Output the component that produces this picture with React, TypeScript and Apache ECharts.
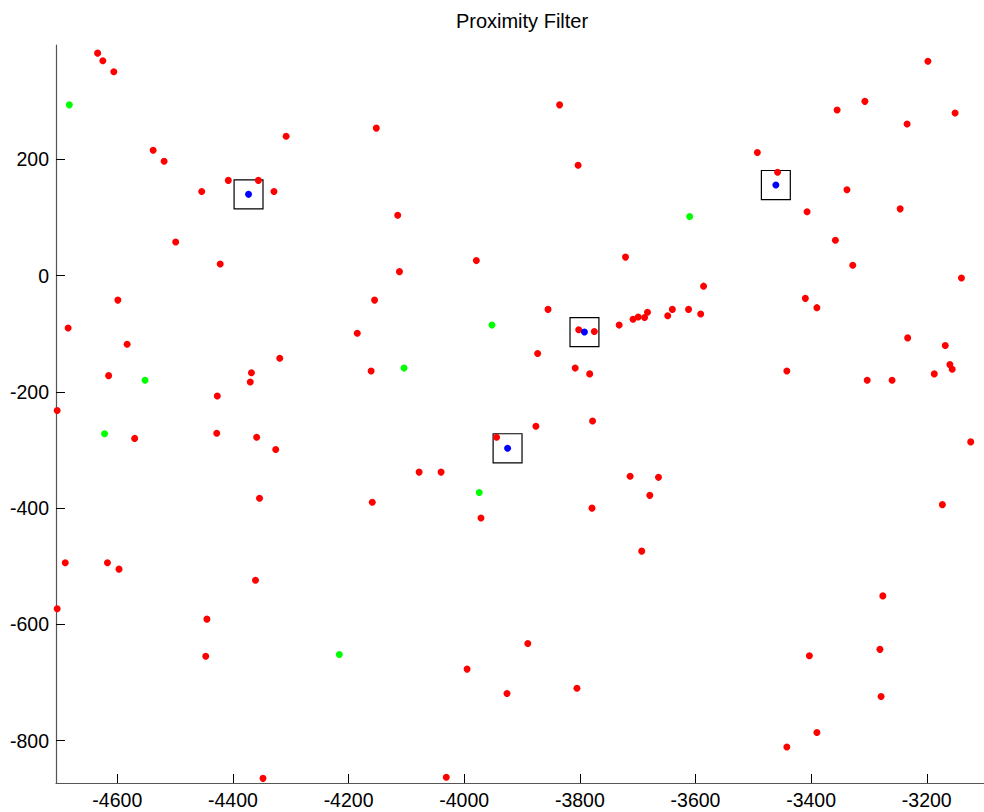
import React, { useEffect, useRef } from "react";
import * as echarts from "echarts";

// Candidate points (x, y) that were rejected by the filter
const redPoints: [number, number][] = [
  [-4634, 383], [-4625, 370], [-4606, 351], [-4538, 216], [-4519, 197],
  [-4454, 145], [-4408, 164], [-4356, 164], [-4329, 145], [-4308, 240],
  [-4499, 58], [-4422, 20], [-4599, -42], [-4685, -90], [-4583, -118],
  [-4615, -172], [-4704, -232], [-4570, -280], [-4427, -207], [-4428, -271],
  [-4368, -167], [-4370, -183], [-4319, -142], [-4359, -278], [-4326, -299],
  [-4354, -383], [-4690, -494], [-4617, -494], [-4597, -505], [-4704, -573],
  [-4445, -591], [-4361, -524], [-4447, -655], [-4348, -865],
  [-4152, 254], [-4115, 104], [-4112, 7], [-4155, -42], [-4185, -99],
  [-4161, -164], [-4159, -390], [-4078, -338], [-4040, -338], [-3979, 26],
  [-3971, -417], [-3944, -278], [-3855, -58], [-3873, -134], [-3876, -259],
  [-3890, -633], [-3995, -677], [-3926, -719], [-4031, -863], [-3835, 294],
  [-3803, 190],
  [-3808, -159], [-3802, -93], [-3775, -96], [-3783, -169], [-3778, -250],
  [-3779, -400], [-3805, -710], [-3732, -85], [-3721, 32], [-3708, -75],
  [-3699, -71], [-3688, -72], [-3683, -63], [-3648, -69], [-3640, -58],
  [-3612, -58], [-3591, -66], [-3586, -18], [-3713, -345], [-3664, -347],
  [-3679, -378], [-3693, -474],
  [-3493, 212], [-3458, 178], [-3407, 110], [-3358, 61], [-3328, 18],
  [-3410, -39], [-3390, -55], [-3355, 285], [-3338, 148], [-3307, 300],
  [-3303, -180], [-3246, 115], [-3234, 261], [-3233, -107], [-3260, -180],
  [-3198, 369], [-3151, 280], [-3140, -4], [-3168, -120], [-3160, -153],
  [-3156, -161], [-3187, -169], [-3173, -394], [-3124, -286], [-3276, -551],
  [-3281, -643], [-3279, -724], [-3403, -654], [-3390, -786], [-3442, -811],
  [-3442, -164],
];

// Points that passed the filter
const greenPoints: [number, number][] = [
  [-4683, 294], [-4622, -272], [-4552, -180], [-4216, -652],
  [-4104, -159], [-3952, -85], [-3974, -373], [-3610, 102],
];

// Reference positions, each drawn with its proximity window
const bluePoints: [number, number][] = [
  [-4373, 140], [-3792, -97], [-3925, -297], [-3461, 156],
];
const windowHalfSize = 25;

const xTicks = [-4600, -4400, -4200, -4000, -3800, -3600, -3400, -3200];
const yTicks = [-800, -600, -400, -200, 0, 200];
const xLimits = [-4706, -3101];
const yLimits = [-873, 397];

const FONT = "'Liberation Sans', Arial, Helvetica, sans-serif";

export default function App() {
  const ref = useRef<HTMLDivElement>(null);

  useEffect(() => {
    if (!ref.current) return;
    const chart = echarts.init(ref.current, null, { renderer: "svg" });

    const axisCommon = {
      type: "value" as const,
      axisLine: { show: true, onZero: false, lineStyle: { color: "#555", width: 1.2 } },
      splitLine: { show: false },
    };
    const plainNumber = (v: number) => String(v);

    const dotSeries = (data: [number, number][], color: string) => ({
      type: "scatter" as const,
      data,
      symbol: "circle",
      symbolSize: 7,
      itemStyle: { color, opacity: 1 },
      silent: true,
    });

    chart.setOption({
      animation: false,
      backgroundColor: "#fff",
      graphic: [
        {
          type: "text",
          x: 522,
          y: 21,
          style: {
            text: "Proximity Filter",
            textAlign: "center",
            textVerticalAlign: "middle",
            fontSize: 20,
            fontFamily: FONT,
            fill: "#000",
          },
        },
      ],
      grid: { left: 56, top: 45, width: 930, height: 738, containLabel: false },
      xAxis: {
        ...axisCommon,
        min: xLimits[0],
        max: xLimits[1],
        axisTick: {
          inside: true,
          length: 9,
          customValues: xTicks,
          lineStyle: { color: "#000", width: 1 },
        },
        axisLabel: {
          customValues: xTicks,
          formatter: plainNumber,
          margin: 7,
          fontSize: 19.5,
          fontFamily: FONT,
          color: "#000",
        },
      },
      yAxis: {
        ...axisCommon,
        min: yLimits[0],
        max: yLimits[1],
        axisTick: {
          inside: true,
          length: 9,
          customValues: yTicks,
          lineStyle: { color: "#000", width: 1 },
        },
        axisLabel: {
          customValues: yTicks,
          formatter: plainNumber,
          margin: 7,
          fontSize: 19.5,
          fontFamily: FONT,
          color: "#000",
        },
      },
      series: [
        dotSeries(redPoints, "#ff0000"),
        dotSeries(greenPoints, "#00ff00"),
        {
          type: "custom",
          data: bluePoints,
          silent: true,
          renderItem: (_params: any, api: any) => {
            const cx = api.value(0);
            const cy = api.value(1);
            const p1 = api.coord([cx - windowHalfSize, cy + windowHalfSize]);
            const p2 = api.coord([cx + windowHalfSize, cy - windowHalfSize]);
            return {
              type: "rect",
              shape: { x: p1[0], y: p1[1], width: p2[0] - p1[0], height: p2[1] - p1[1] },
              style: { fill: "none", stroke: "#000", lineWidth: 1.2 },
            };
          },
        },
        dotSeries(bluePoints, "#0000ff"),
      ],
    });

    return () => chart.dispose();
  }, []);

  return (
    <div
      ref={ref}
      style={{ position: "absolute", left: 0, top: 0, width: 984, height: 812, background: "#fff" }}
    />
  );
}
